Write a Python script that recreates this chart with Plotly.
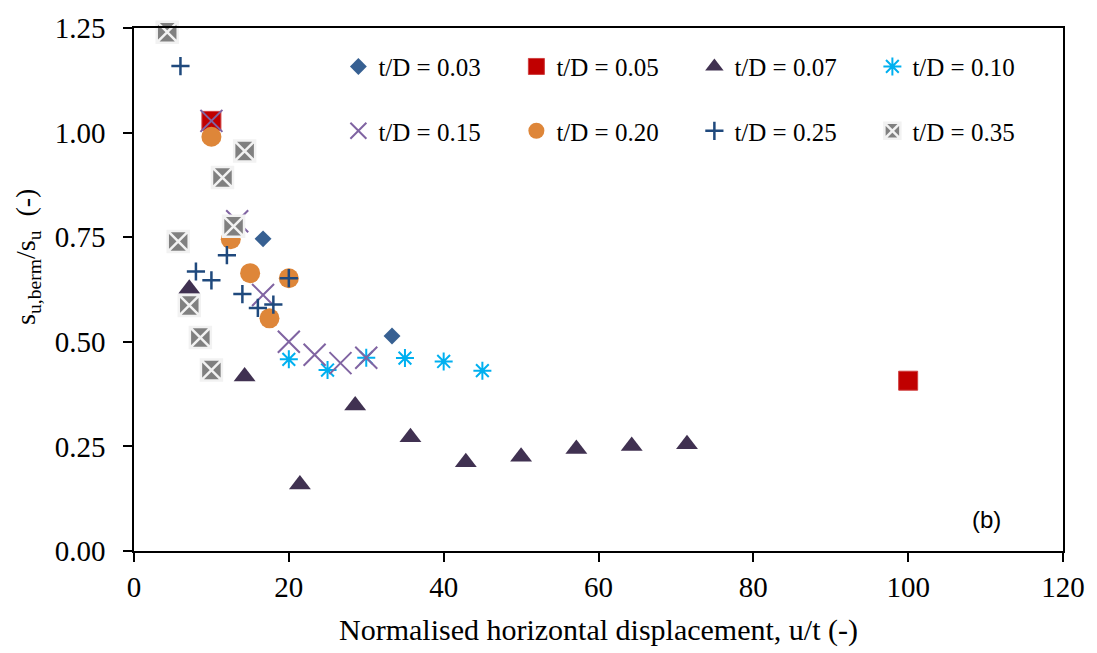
import plotly.graph_objects as go

# ---- data ----
td003_x = [16.67, 33.33]
td003_y = [0.746, 0.514]

td005_x = [10.0, 100.0]
td005_y = [1.028, 0.407]

td007_x = [7.14, 14.29, 21.43, 28.57, 35.71, 42.86, 50.0, 57.14, 64.29, 71.43]
td007_y = [0.627, 0.417, 0.159, 0.348, 0.272, 0.212, 0.225, 0.244, 0.251, 0.255]

td010_x = [20.0, 25.0, 30.0, 35.0, 40.0, 45.0]
td010_y = [0.458, 0.4325, 0.462, 0.461, 0.453, 0.431]

td015_x = [10.0, 13.33, 16.67, 20.0, 23.33, 26.67, 30.0]
td015_y = [1.028, 0.788, 0.612, 0.500, 0.469, 0.449, 0.462]

td020_x = [10.0, 12.5, 15.0, 17.5, 20.0]
td020_y = [0.990, 0.745, 0.664, 0.556, 0.652]

td025_x = [6.0, 8.0, 10.0, 12.0, 14.0, 16.0, 18.0, 20.0]
td025_y = [1.159, 0.668, 0.647, 0.707, 0.614, 0.581, 0.589, 0.652]

td035_x = [4.29, 5.71, 7.14, 8.57, 10.0, 11.43, 12.86, 14.29]
td035_y = [1.240, 0.740, 0.587, 0.510, 0.4325, 0.8925, 0.776, 0.956]

names = ["t/D = 0.03", "t/D = 0.05", "t/D = 0.07", "t/D = 0.10",
         "t/D = 0.15", "t/D = 0.20", "t/D = 0.25", "t/D = 0.35"]

x_ticks = [0, 20, 40, 60, 80, 100, 120]
y_ticks = [0.00, 0.25, 0.50, 0.75, 1.00, 1.25]

# ---- styles ----
styles = [
    dict(symbol="diamond", size=13, color="#376092", line=dict(width=0)),
    dict(symbol="square", size=19, color="#C00000", line=dict(width=1, color="#D04040")),
    dict(symbol="triangle-up", size=19, color="#403151", line=dict(width=0)),
    dict(symbol="asterisk-open", size=15, color="#00B0F0", line=dict(width=2, color="#00B0F0")),
    dict(symbol="x-thin-open", size=22, color="#8064A2", line=dict(width=2, color="#8064A2")),
    dict(symbol="circle", size=20, color="#DE8639", line=dict(width=0)),
    dict(symbol="cross-thin-open", size=13, color="#1F497D", line=dict(width=2.5, color="#1F497D")),
    dict(symbol="square-x", size=21, color="#808080", line=dict(width=2.5, color="#F2F2F2")),
]

data = [(td003_x, td003_y), (td005_x, td005_y), (td007_x, td007_y), (td010_x, td010_y),
        (td015_x, td015_y), (td020_x, td020_y), (td025_x, td025_y), (td035_x, td035_y)]

fig = go.Figure()
for i, ((xs, ys), name, st) in enumerate(zip(data, names, styles)):
    fig.add_trace(go.Scatter(
        x=xs, y=ys, mode="markers", name=name,
        legend="legend" if i < 4 else "legend2",
        marker=st, cliponaxis=False,
    ))

serif = "Liberation Serif"
legend_common = dict(
    orientation="h", xanchor="left", yanchor="middle",
    bgcolor="rgba(0,0,0,0)", borderwidth=0,
    font=dict(family=serif, size=25, color="black"),
    entrywidth=133, entrywidthmode="pixels",
    itemwidth=30, tracegroupgap=0,
)

fig.update_layout(
    width=1097, height=653, autosize=False,
    margin=dict(l=134, r=31, t=24, b=101, pad=0),
    paper_bgcolor="white", plot_bgcolor="white",
    font=dict(family=serif, color="black"),
    showlegend=True,
    legend=dict(x=0.22, y=0.926, **legend_common),
    legend2=dict(x=0.22, y=0.803, **legend_common),
    xaxis=dict(
        range=[0, 120], tickvals=x_ticks, ticktext=[str(v) for v in x_ticks],
        showgrid=False, zeroline=False,
        showline=True, linecolor="black", linewidth=1.5, mirror=True,
        ticks="outside", ticklen=9, tickwidth=1.5, tickcolor="black",
        tickfont=dict(family=serif, size=29, color="black"),
        title=dict(text="Normalised horizontal displacement, u/t (-)",
                   font=dict(family=serif, size=30, color="black"), standoff=17),
    ),
    xaxis2=dict(
        range=[0, 120], overlaying="x", anchor="y", side="bottom",
        dtick=4, tick0=0, ticks="inside", ticklen=5, tickwidth=1.5, tickcolor="black",
        showticklabels=False, showgrid=False, zeroline=False, showline=False,
    ),
    yaxis=dict(
        range=[0, 1.25], tickvals=y_ticks, ticktext=[f"{v:.2f}" for v in y_ticks],
        showgrid=False, zeroline=False,
        showline=True, linecolor="black", linewidth=1.5, mirror=True,
        ticks="outside", ticklen=9, tickwidth=1.5, tickcolor="black",
        tickfont=dict(family=serif, size=29, color="black"),
        ticklabelstandoff=12,
    ),
    annotations=[
        dict(text="s<sub>u,berm</sub>/s<sub>u</sub>  (-)", textangle=-90,
             xref="paper", yref="paper", x=-0.114, y=0.5625,
             xanchor="center", yanchor="middle", showarrow=False,
             font=dict(family=serif, size=28, color="black")),
        dict(text="(b)", xref="paper", yref="paper", x=0.9177, y=0.0593,
             xanchor="center", yanchor="middle", showarrow=False,
             font=dict(family="Liberation Sans", size=24, color="black")),
    ],
)

fig.write_html("out.html")
